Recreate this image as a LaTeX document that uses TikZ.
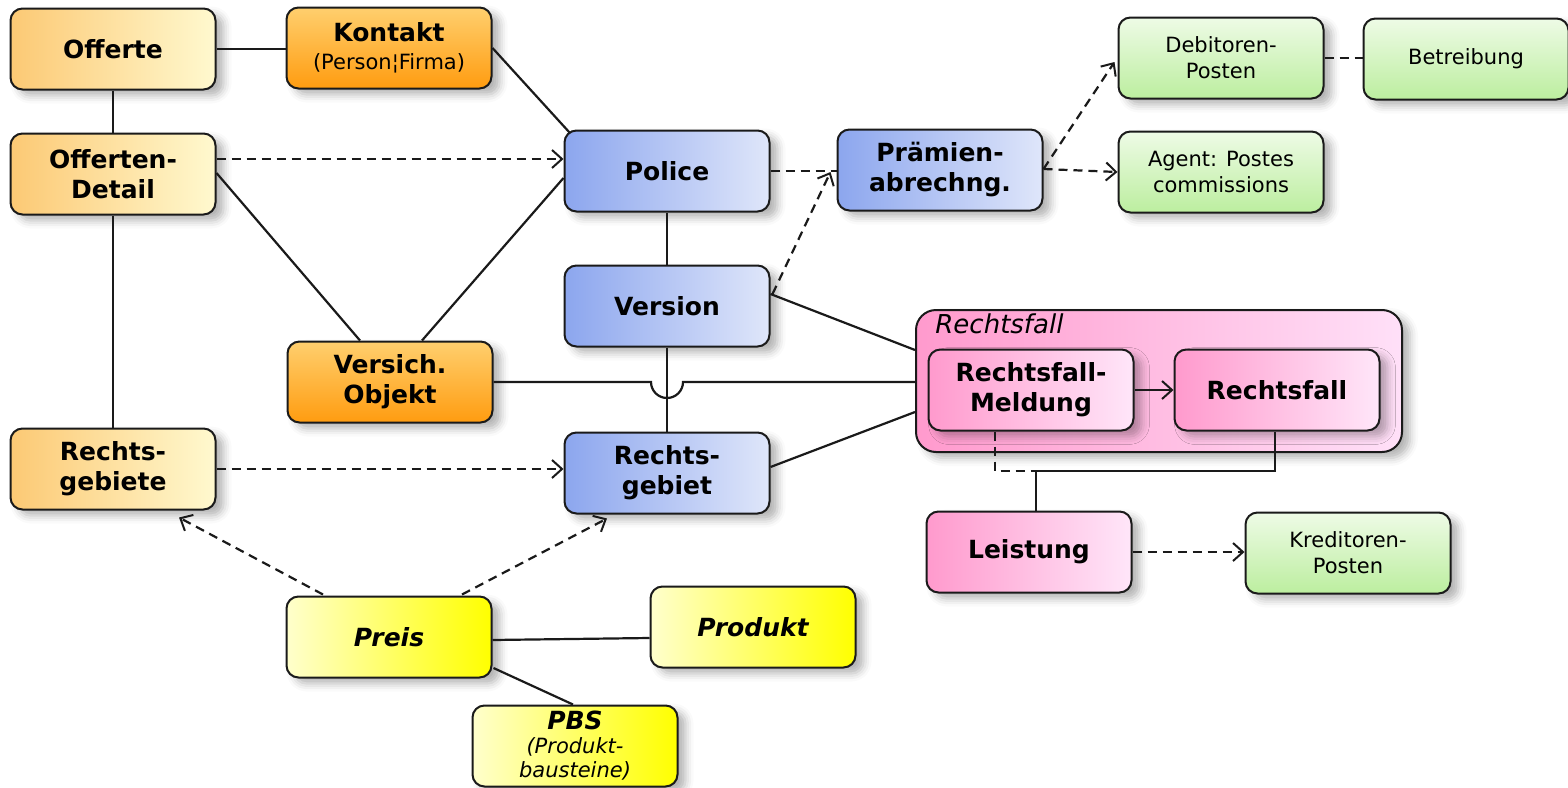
\documentclass[tikz,border=0pt]{standalone}
\usepackage{fontspec}
\setmainfont{DejaVu Sans}
\usetikzlibrary{arrows.meta,shadows.blur,calc}
\definecolor{offL}{HTML}{FCC974}
\definecolor{offR}{HTML}{FFF9CF}
\definecolor{konT}{HTML}{FFCF6E}
\definecolor{konB}{HTML}{FF9C10}
\definecolor{bluL}{HTML}{8CA6EE}
\definecolor{bluR}{HTML}{DFE6FA}
\definecolor{pnkL}{HTML}{FF9ACD}
\definecolor{pnkR}{HTML}{FFE6F9}
\definecolor{grpL}{HTML}{FF9ACD}
\definecolor{grpR}{HTML}{FFE0F8}
\definecolor{grnT}{HTML}{EEFBE6}
\definecolor{grnB}{HTML}{BCEE9F}
\definecolor{yelL}{HTML}{FFFFCC}
\definecolor{yelR}{HTML}{FFFF00}
\definecolor{lineC}{HTML}{1A1A1A}
\begin{document}
\begin{tikzpicture}[x=0.5pt,y=-0.5pt,
  >={Straight Barb[length=5pt,width=9pt,line width=1pt]},
  basebox/.style={draw=lineC, line width=1pt, rounded corners=6pt,
    minimum width=102.5pt, minimum height=40.5pt, align=center, inner sep=0pt,
    blur shadow={shadow xshift=4pt, shadow yshift=-3pt, shadow blur radius=4pt, shadow opacity=30}},
  bold/.style={font=\bfseries\fontsize{12.5}{15}\selectfont},
  plain/.style={font=\fontsize{10.5}{13}\selectfont},
  obox/.style={basebox, bold, left color=offL, right color=offR},
  kbox/.style={basebox, bold, top color=konT, bottom color=konB},
  bbox/.style={basebox, bold, left color=bluL, right color=bluR},
  pbox/.style={basebox, bold, left color=pnkL, right color=pnkR},
  gbox/.style={basebox, plain, top color=grnT, bottom color=grnB},
  ybox/.style={basebox, font=\bfseries\itshape\fontsize{12.5}{15}\selectfont, left color=yelL, right color=yelR},
  groupbox/.style={draw=lineC, line width=1pt, rounded corners=10pt,
    minimum width=243pt, minimum height=71pt, inner sep=0pt, left color=grpL, right color=grpR,
    blur shadow={shadow xshift=4pt, shadow yshift=-3pt, shadow blur radius=4pt, shadow opacity=30}},
  grouplabel/.style={anchor=base west, inner sep=0pt, font=\itshape\fontsize{13}{15}\selectfont},
  conn/.style={draw=lineC, line width=1.1pt},
  dconn/.style={draw=lineC, line width=1.1pt, dash pattern=on 4.5pt off 3pt}
]
\useasboundingbox (0,0) rectangle (1568,787);

% nodes
\node[obox] (offerte) at (113,49) {Offerte};
\node[kbox] (kontakt) at (389,48) {Kontakt\\[-1pt]{\mdseries\fontsize{10.5}{13}\selectfont (Person¦Firma)}};
\node[obox] (detail) at (113,174) {Offerten-\\Detail};
\node[bbox] (police) at (667,171) {Police};
\node[bbox] (praemie) at (940,170) {Prämien-\\abrechng.};
\node[gbox] (debitor) at (1221,58) {Debitoren-\\Posten};
\node[gbox] (betreib) at (1466,59) {Betreibung};
\node[gbox] (agent) at (1221,172) {Agent: Postes\\commissions};
\node[bbox] (version) at (667,306) {Version};
\node[kbox] (objekt) at (390,382) {Versich.\\Objekt};
\node[groupbox] (fall) at (1159,381) {};
\node[grouplabel] (falllabel) at (935,333) {Rechtsfall};
\node[pbox] (meldung) at (1031,390) {Rechtsfall-\\Meldung};
\node[pbox] (rechtsfall) at (1277,390) {Rechtsfall};
\node[obox] (gebiete) at (113,469) {Rechts-\\gebiete};
\node[bbox] (gebiet) at (667,473) {Rechts-\\gebiet};
\node[pbox] (leistung) at (1029,552) {Leistung};
\node[gbox] (kredit) at (1348,553) {Kreditoren-\\Posten};
\node[ybox] (preis) at (389,637) {Preis};
\node[ybox] (produkt) at (753,627) {Produkt};
\node[ybox, font=\itshape\fontsize{10.5}{12}\selectfont] (pbs) at (575,746) {{\bfseries\fontsize{12.5}{12}\selectfont PBS}\\(Produkt-\\bausteine)};

% connectors
\draw[conn] (offerte.east) -- (kontakt.west |- offerte.east);
\draw[conn] (offerte.south) -- (detail.north);
\draw[conn] (kontakt.east) -- ($(police.north west)+(6,3)$);
\draw[dconn,->] ($(detail.east)+(0,-15)$) -- ($(police.west)+(0,-12)$);
\draw[conn] ($(detail.east)+(0,-1)$) -- ($(objekt.north)+(-30,0)$);
\draw[conn] ($(police.west)+(0,7)$) -- ($(objekt.north)+(32,0)$);
\draw[conn] (detail.south) -- (gebiete.north);
\draw[conn] (police.south) -- (version.north);
\draw[dconn] (police.east) -- (praemie.west |- police.east);
\draw[dconn,->] ($(version.east)+(2,-12)$) -- ($(praemie.west)+(-6,2)$);
\draw[dconn,->] ($(praemie.east)+(0,-1)$) -- ($(debitor.west)+(-3,4)$);
\draw[dconn,->] ($(praemie.east)+(0,-1)$) -- (agent.west);
\draw[dconn] (debitor.east) -- (betreib.west |- debitor.east);
\draw[conn] ($(version.east)+(0,-12)$) -- ($(fall.west)+(0,-31)$);
\draw[conn] (objekt.east) -- ($(version.south |- objekt.east)+(-16,0)$)
  arc[start angle=180, end angle=360, radius=8pt] -- (fall.west |- objekt.east);
\draw[conn] (version.south) -- (gebiet.north);
\draw[dconn,->] (gebiete.east) -- (gebiet.west |- gebiete.east);
\draw[conn] ($(gebiet.east)+(0,-6)$) -- ($(fall.west)+(0,31)$);
\draw[conn,->] (meldung.east) -- (rechtsfall.west);
\coordinate (junc) at (1036,471);
\draw[dconn] ($(meldung.south)+(-36,0)$) |- (junc);
\draw[conn] ($(rechtsfall.south)+(-2,0)$) |- (junc) -- (junc |- leistung.north);
\draw[dconn,->] (leistung.east) -- (kredit.west |- leistung.east);
\draw[dconn,->] ($(preis.north)+(-66,-1)$) -- ($(gebiete.south)+(66,7)$);
\draw[dconn,->] ($(preis.north)+(73,-1)$) -- ($(gebiet.south)+(-60,4)$);
\draw[conn] ($(preis.east)+(0,3)$) -- ($(produkt.west)+(0,11)$);
\draw[conn] ($(preis.east)+(1,31)$) -- ($(pbs.north)+(-2,0)$);
\end{tikzpicture}
\end{document}
